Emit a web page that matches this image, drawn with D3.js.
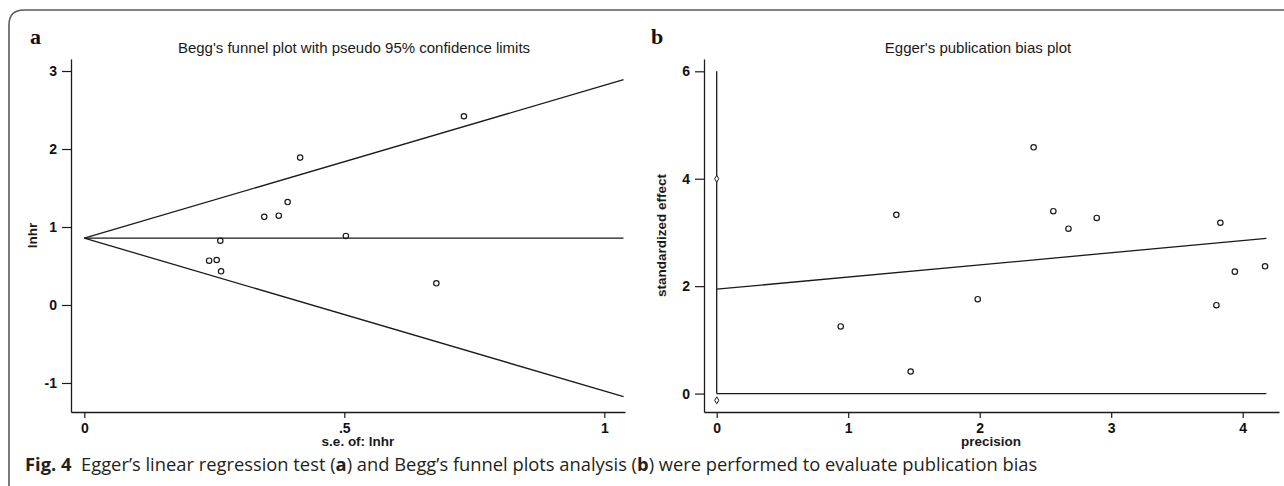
<!DOCTYPE html>
<html>
<head>
<meta charset="utf-8">
<script src="https://cdn.jsdelivr.net/npm/d3@7"></script>
<style>
  html, body { margin: 0; padding: 0; background: #fff; }
  svg { display: block; }
</style>
</head>
<body>
<svg id="chart" width="1284" height="486"></svg>
<script>
// ---------- Data ----------
// Panel a: Begg's funnel plot
const beggSE   = [0.730, 0.415, 0.391, 0.346, 0.374, 0.2615, 0.503, 0.240, 0.2546, 0.263, 0.677];
const beggLnhr = [2.42, 1.89, 1.32, 1.13, 1.145, 0.824, 0.885, 0.568, 0.577, 0.432, 0.278];
const beggPooled = 0.857;     // pooled lnhr (horizontal line)
const beggSEMax  = 1.037;     // funnel limits drawn out to this s.e.
const beggXTicks = [0, 0.5, 1];
const beggYTicks = [-1, 0, 1, 2, 3];
const beggXDomain = [-0.0256, 1.0398];
const beggYDomain = [-1.372, 3.154];

// Panel b: Egger's publication bias plot
const eggerPrecision = [2.41, 1.366, 2.56, 2.675, 2.89, 3.83, 3.94, 4.17, 1.985, 3.80, 0.943, 1.475];
const eggerEffect    = [4.585, 3.327, 3.395, 3.07, 3.27, 3.18, 2.27, 2.37, 1.757, 1.645, 1.25, 0.411];
const eggerIntercept = 1.944;
const eggerSlope     = 0.226;
const eggerXMax      = 4.18;
const eggerCI        = [-0.125, 4.0];   // diamonds at precision 0
const eggerVLine     = [0, 6];
const eggerXTicks = [0, 1, 2, 3, 4];
const eggerYTicks = [0, 2, 4, 6];
const eggerXDomain = [-0.0966, 4.276];
const eggerYDomain = [-0.343, 6.229];

const caption = {
  lead: "Fig. 4",
  parts: [
    {t: "  Egger\u2019s linear regression test (", b: false},
    {t: "a", b: true},
    {t: ") and Begg\u2019s funnel plots analysis (", b: false},
    {t: "b", b: true},
    {t: ") were performed to evaluate publication bias", b: false}
  ]
};

// ---------- Drawing ----------
const svg = d3.select("#chart");
const INK = "#1a1a1a";
const sans = "'Liberation Sans', Arial, sans-serif";

// outer rounded frame
svg.append("path")
  .attr("d", "M9,486 V25 Q9,10 24,10 H1290")
  .attr("fill", "none").attr("stroke", "#5a5a5a").attr("stroke-width", 1.6);

function fmt(d) { return String(d).replace(/^0\./, ".").replace(/^-0\./, "-."); }

function panel(cfg) {
  const g = svg.append("g");
  const x = d3.scaleLinear().domain(cfg.xDomain).range([cfg.left, cfg.right]);
  const y = d3.scaleLinear().domain(cfg.yDomain).range([cfg.bottom, cfg.top]);

  const xa = g.append("g").attr("transform", `translate(0,${cfg.bottom})`)
    .call(d3.axisBottom(x).tickValues(cfg.xTicks).tickFormat(fmt).tickSize(6).tickPadding(5).tickSizeOuter(0));
  const ya = g.append("g").attr("transform", `translate(${cfg.left},0)`)
    .call(d3.axisLeft(y).tickValues(cfg.yTicks).tickFormat(fmt).tickSize(9).tickPadding(5).tickSizeOuter(0));
  [xa, ya].forEach(a => {
    a.selectAll("path.domain").attr("stroke", INK).attr("stroke-width", 1.3);
    a.selectAll(".tick line").attr("stroke", INK).attr("stroke-width", 1.2);
    a.selectAll(".tick text")
      .style("font-family", sans).style("font-weight", "bold")
      .style("font-size", "14px").style("fill", "#111");
  });

  // titles
  g.append("text").attr("x", cfg.titleX).attr("y", 53)
    .attr("text-anchor", "middle").attr("font-family", sans).attr("font-size", 15)
    .attr("fill", INK).text(cfg.title);
  g.append("text").attr("x", cfg.xLabelX).attr("y", 446)
    .attr("text-anchor", "middle").attr("font-family", sans).attr("font-size", 13.5)
    .attr("font-weight", "bold").attr("fill", INK).text(cfg.xLabel);
  g.append("text")
    .attr("transform", `translate(${cfg.yLabelX},${(cfg.top + cfg.bottom) / 2}) rotate(-90)`)
    .attr("text-anchor", "middle").attr("dy", "0.35em").attr("font-family", sans).attr("font-size", 13.5)
    .attr("font-weight", "bold").attr("fill", INK).text(cfg.yLabel);
  g.append("text").attr("x", cfg.letterX).attr("y", 44)
    .attr("font-family", "'Liberation Serif', 'Times New Roman', serif").attr("font-size", 22)
    .attr("font-weight", "bold").attr("fill", "#111").text(cfg.letter);
  return {g, x, y};
}

// Panel a
const A = panel({
  left: 71, right: 625, top: 59, bottom: 412,
  xDomain: beggXDomain, yDomain: beggYDomain, xTicks: beggXTicks, yTicks: beggYTicks,
  title: "Begg's funnel plot with pseudo 95% confidence limits", titleX: 354,
  xLabel: "s.e. of: lnhr", xLabelX: 358, yLabel: "lnhr", yLabelX: 32, letter: "a", letterX: 30
});
const line = (sc, pts) => d3.line().x(d => sc.x(d[0])).y(d => sc.y(d[1]))(pts);
[
  [[0, beggPooled], [beggSEMax, beggPooled]],
  [[0, beggPooled], [beggSEMax, beggPooled + 1.96 * beggSEMax]],
  [[0, beggPooled], [beggSEMax, beggPooled - 1.96 * beggSEMax]]
].forEach(pts => A.g.append("path").attr("d", line(A, pts))
  .attr("fill", "none").attr("stroke", INK).attr("stroke-width", 1.3));
A.g.selectAll("circle.pt").data(d3.range(beggSE.length)).join("circle")
  .attr("class", "pt").attr("cx", i => A.x(beggSE[i])).attr("cy", i => A.y(beggLnhr[i]))
  .attr("r", 2.7).attr("fill", "none").attr("stroke", INK).attr("stroke-width", 1.2);

// Panel b
const B = panel({
  left: 704, right: 1279, top: 59, bottom: 412,
  xDomain: eggerXDomain, yDomain: eggerYDomain, xTicks: eggerXTicks, yTicks: eggerYTicks,
  title: "Egger's publication bias plot", titleX: 978,
  xLabel: "precision", xLabelX: 991, yLabel: "standardized effect", yLabelX: 661, letter: "b", letterX: 651
});
[
  [[0, eggerVLine[0]], [0, eggerVLine[1]]],
  [[0, 0], [eggerXMax, 0]],
  [[0, eggerIntercept], [eggerXMax, eggerIntercept + eggerSlope * eggerXMax]]
].forEach(pts => B.g.append("path").attr("d", line(B, pts))
  .attr("fill", "none").attr("stroke", INK).attr("stroke-width", 1.3));
B.g.selectAll("circle.pt").data(d3.range(eggerPrecision.length)).join("circle")
  .attr("class", "pt").attr("cx", i => B.x(eggerPrecision[i])).attr("cy", i => B.y(eggerEffect[i]))
  .attr("r", 2.7).attr("fill", "none").attr("stroke", INK).attr("stroke-width", 1.2);
B.g.selectAll("path.dia").data(eggerCI).join("path")
  .attr("class", "dia")
  .attr("d", d3.symbol(d3.symbolDiamond, 14))
  .attr("transform", d => `translate(${B.x(0)},${B.y(d)})`)
  .attr("fill", "#fff").attr("stroke", INK).attr("stroke-width", 1);

// Caption
const cap = svg.append("text").attr("x", 25).attr("y", 470.5)
  .attr("font-family", "'Open Sans', 'Noto Sans', sans-serif").attr("font-size", 15).attr("fill", "#231f20");
cap.append("tspan").attr("font-weight", "bold").text(caption.lead);
caption.parts.forEach(p => cap.append("tspan").attr("font-weight", p.b ? "bold" : "normal")
  .attr("xml:space", "preserve").text(p.t));
cap.attr("xml:space", "preserve").style("white-space", "pre");
const w = cap.node().getComputedTextLength();
cap.attr("font-size", 15 * 1013 / w);
</script>
</body>
</html>
